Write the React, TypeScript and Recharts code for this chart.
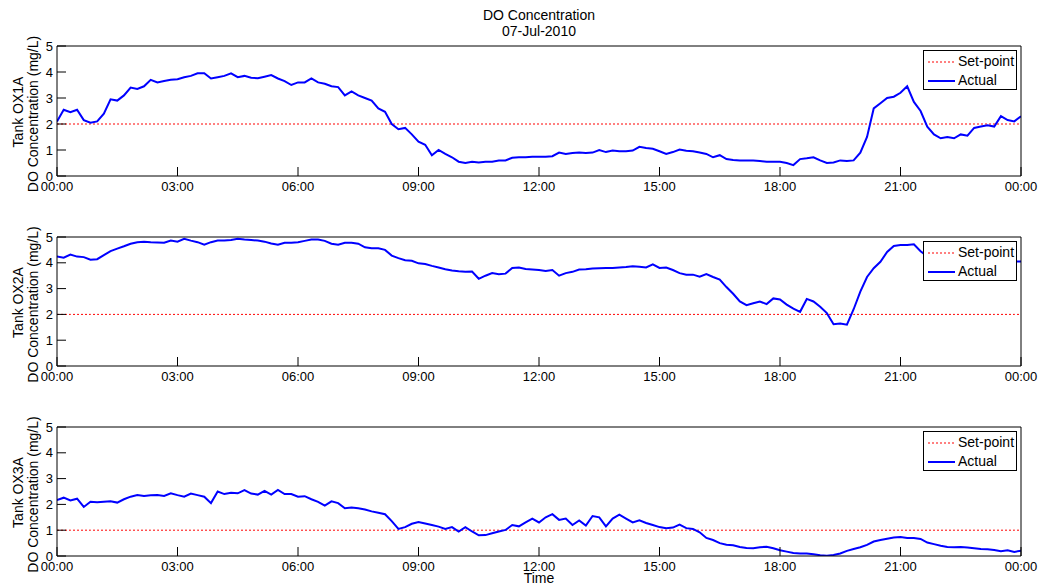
import React from 'react';
import { LineChart, Line, XAxis, YAxis, Legend } from 'recharts';

// sample times (minutes after midnight, every 10 min)
const TIME_MINUTES: number[] = Array.from({ length: 145 }, (_, i) => i * 10);
const X_TICKS = [0, 180, 360, 540, 720, 900, 1080, 1260, 1440];
const X_TICK_LABELS = ['00:00', '03:00', '06:00', '09:00', '12:00', '15:00', '18:00', '21:00', '00:00'];
const Y_TICKS = [0, 1, 2, 3, 4, 5];

const TITLE = 'DO Concentration';
const SUBTITLE = '07-Jul-2010';
const X_LABEL = 'Time';
const Y_LABEL = 'DO Concentration (mg/L)';
const TANKS = ['Tank OX1A', 'Tank OX2A', 'Tank OX3A'];
const SETPOINTS = [2, 2, 1];
const SERIES_NAMES = ['Set-point', 'Actual'];

const OX1A = [
  2.1, 2.55, 2.45, 2.55, 2.15, 2.05, 2.1, 2.4, 2.95, 2.9,
  3.1, 3.4, 3.35, 3.45, 3.7, 3.6, 3.65, 3.7, 3.72, 3.8,
  3.85, 3.95, 3.95, 3.75, 3.8, 3.85, 3.95, 3.8, 3.85, 3.78,
  3.76, 3.82, 3.88, 3.75, 3.65, 3.5, 3.6, 3.6, 3.75, 3.6,
  3.55, 3.45, 3.42, 3.1, 3.25, 3.1, 3.0, 2.9, 2.6, 2.47,
  2.0, 1.8, 1.85, 1.6, 1.32, 1.2, 0.8, 1.0, 0.85, 0.72,
  0.55, 0.5, 0.55, 0.52, 0.55, 0.55, 0.6, 0.6, 0.7, 0.72,
  0.72, 0.74, 0.74, 0.74, 0.76, 0.9, 0.85, 0.88, 0.9, 0.88,
  0.9, 1.0, 0.92, 0.98, 0.95, 0.95, 0.98, 1.12, 1.08, 1.05,
  0.95, 0.85, 0.92, 1.02, 0.97, 0.95, 0.9, 0.85, 0.72, 0.8,
  0.65, 0.62, 0.6, 0.6, 0.6, 0.58, 0.55, 0.55, 0.55, 0.5,
  0.42, 0.65, 0.68, 0.72, 0.6, 0.5, 0.52, 0.6, 0.58, 0.6,
  0.9, 1.5, 2.6, 2.8, 3.0, 3.05, 3.2, 3.45, 2.85, 2.5,
  1.9, 1.6, 1.45, 1.5, 1.45, 1.6, 1.55, 1.85, 1.9, 1.95,
  1.9, 2.3, 2.15, 2.1, 2.3,
];

const OX2A = [
  4.24, 4.2, 4.32, 4.24, 4.22, 4.12, 4.14, 4.3, 4.45, 4.55,
  4.64, 4.74, 4.8, 4.82, 4.8, 4.79, 4.78, 4.86, 4.82, 4.93,
  4.86, 4.8, 4.7, 4.8, 4.86, 4.86, 4.88, 4.93, 4.9, 4.88,
  4.86, 4.82, 4.75, 4.7, 4.78, 4.78, 4.8, 4.85, 4.9, 4.9,
  4.85, 4.74, 4.7, 4.78, 4.78, 4.74, 4.6, 4.56, 4.56, 4.5,
  4.28, 4.18, 4.1, 4.08, 3.98, 3.95, 3.88, 3.82, 3.75, 3.7,
  3.67, 3.65, 3.66, 3.38, 3.5, 3.6, 3.56, 3.58, 3.8, 3.82,
  3.76, 3.74, 3.72, 3.68, 3.72, 3.5, 3.6, 3.65, 3.74, 3.75,
  3.78, 3.79, 3.8, 3.8, 3.82, 3.84, 3.87, 3.85, 3.82, 3.94,
  3.8, 3.82, 3.72, 3.6, 3.54, 3.54, 3.46, 3.56, 3.45, 3.35,
  3.06, 2.8, 2.5, 2.36, 2.43, 2.5, 2.4, 2.62, 2.58, 2.38,
  2.22, 2.1, 2.6, 2.5, 2.3, 2.05, 1.62, 1.65, 1.6, 2.2,
  2.88, 3.45, 3.79, 4.04, 4.42, 4.65, 4.69, 4.69, 4.72, 4.45,
  4.25, 4.2, 4.18, 4.15, 4.12, 4.1, 4.1, 4.08, 4.06, 4.05,
  4.05, 4.05, 4.05, 4.05, 4.05,
];

const OX3A = [
  2.17, 2.26, 2.15, 2.22, 1.9, 2.1, 2.08, 2.1, 2.12, 2.07,
  2.2, 2.3, 2.36, 2.33, 2.35, 2.36, 2.33, 2.43, 2.36, 2.3,
  2.42, 2.36, 2.3, 2.05, 2.5, 2.4, 2.45, 2.43, 2.55, 2.42,
  2.38, 2.52, 2.38, 2.56, 2.4, 2.4, 2.3, 2.32, 2.2, 2.1,
  1.95, 2.12, 2.05, 1.85, 1.88, 1.85, 1.8, 1.73, 1.68, 1.62,
  1.35, 1.05, 1.12, 1.25, 1.32, 1.26, 1.2, 1.14, 1.05, 1.12,
  0.95, 1.12, 0.95, 0.8, 0.81, 0.88, 0.95, 1.01, 1.2, 1.15,
  1.3, 1.45, 1.3, 1.5, 1.62, 1.4, 1.45, 1.2, 1.38, 1.18,
  1.55, 1.5, 1.15, 1.45, 1.6, 1.45, 1.3, 1.38, 1.28, 1.2,
  1.12, 1.08, 1.1, 1.22, 1.08, 1.05, 0.92, 0.7, 0.62, 0.5,
  0.44, 0.42, 0.35, 0.31, 0.3, 0.34, 0.36, 0.3, 0.22, 0.17,
  0.12, 0.1, 0.1, 0.07, 0.03, 0.01, 0.04, 0.1, 0.2, 0.27,
  0.34, 0.43, 0.56, 0.62, 0.67, 0.72, 0.74, 0.7, 0.7, 0.66,
  0.52, 0.46, 0.4, 0.35, 0.34, 0.35, 0.33, 0.3, 0.27, 0.26,
  0.23, 0.18, 0.22, 0.16, 0.2,
];

const PANEL_VALUES = [OX1A, OX2A, OX3A];
const PANEL_PLOT_TOP = [46, 237, 427];
const PANEL_PLOT_BOTTOM = [176, 366, 556];

const FONT = '"Liberation Sans", Arial, Helvetica, sans-serif';
const PLOT_LEFT = 57;
const PLOT_RIGHT = 1021;
const MARGIN_TOP = 46;
const BOTTOM_SPACE = 24;

const fmtX = (v: number) => {
  const i = X_TICKS.indexOf(v);
  return i >= 0 ? X_TICK_LABELS[i] : '';
};

function LegendBox() {
  const row = (dash: boolean, color: string, width: number, label: string) => (
    <div style={{ display: 'flex', alignItems: 'center', height: 19 }}>
      <svg width={28} height={6} style={{ marginLeft: 4, marginRight: 2 }}>
        <line x1={0} y1={3} x2={27} y2={3} stroke={color} strokeWidth={width} strokeDasharray={dash ? '2 2' : undefined} />
      </svg>
      <span style={{ fontSize: 14, color: '#000', fontFamily: FONT, lineHeight: '19px' }}>{label}</span>
    </div>
  );
  return (
    <div
      style={{
        width: 94,
        height: 40,
        boxSizing: 'border-box',
        border: '1px solid #000',
        background: '#fff',
        paddingTop: 1,
      }}
    >
      {row(true, '#ff0000', 1, SERIES_NAMES[0])}
      {row(false, '#0000ff', 2, SERIES_NAMES[1])}
    </div>
  );
}

function Panel({ idx }: { idx: number }) {
  const values = PANEL_VALUES[idx];
  const setpoint = SETPOINTS[idx];
  const plotTop = PANEL_PLOT_TOP[idx];
  const plotBottom = PANEL_PLOT_BOTTOM[idx];
  const divTop = plotTop - MARGIN_TOP;
  const height = plotBottom - divTop + BOTTOM_SPACE;
  const data = TIME_MINUTES.map((t, i) => ({ t, sp: setpoint, v: values[i] }));
  const tickStyle = { fill: '#000', fontSize: 13, fontFamily: FONT };
  return (
    <div style={{ position: 'absolute', left: 0, top: divTop }}>
      <LineChart
        width={1040}
        height={height}
        data={data}
        margin={{ top: MARGIN_TOP - 1, right: 1040 - PLOT_RIGHT - 1, bottom: 0, left: 0 }}
      >
        <XAxis
          xAxisId="b"
          dataKey="t"
          type="number"
          domain={[0, 1440]}
          ticks={X_TICKS}
          interval={0}
          tickFormatter={fmtX}
          orientation="bottom"
          height={BOTTOM_SPACE}
          tickSize={-9}
          tickMargin={15}
          stroke="#000"
          tick={tickStyle}
          allowDataOverflow
        />
        <XAxis
          xAxisId="t"
          dataKey="t"
          type="number"
          domain={[0, 1440]}
          ticks={X_TICKS}
          interval={0}
          orientation="top"
          height={1}
          tickSize={-9}
          tick={false}
          stroke="#000"
          allowDataOverflow
        />
        <YAxis
          yAxisId="l"
          type="number"
          domain={[0, 5]}
          ticks={Y_TICKS}
          interval={0}
          width={PLOT_LEFT}
          tickSize={-9}
          tickMargin={13}
          stroke="#000"
          tick={tickStyle}
          allowDataOverflow
        />
        <YAxis
          yAxisId="r"
          orientation="right"
          type="number"
          domain={[0, 5]}
          ticks={Y_TICKS}
          interval={0}
          width={1}
          tickSize={-9}
          tick={false}
          stroke="#000"
          allowDataOverflow
        />
        <Line
          xAxisId="b"
          yAxisId="l"
          dataKey="sp"
          name={SERIES_NAMES[0]}
          stroke="#ff0000"
          strokeWidth={1}
          strokeDasharray="2 2"
          dot={false}
          activeDot={false}
          isAnimationActive={false}
        />
        <Line
          xAxisId="b"
          yAxisId="l"
          dataKey="v"
          name={SERIES_NAMES[1]}
          type="linear"
          stroke="#0000ff"
          strokeWidth={2}
          dot={false}
          activeDot={false}
          isAnimationActive={false}
        />
        <Legend
          layout="vertical"
          align="center"
          verticalAlign="middle"
          content={() => <LegendBox />}
          wrapperStyle={{ left: PLOT_RIGHT - 98, top: MARGIN_TOP + 4, width: 94, height: 40, right: 'auto', bottom: 'auto' }}
        />
      </LineChart>
    </div>
  );
}

export default function App() {
  return (
    <div
      style={{
        position: 'absolute',
        left: 0,
        top: 0,
        width: 1040,
        height: 586,
        background: '#fff',
        fontFamily: FONT,
        overflow: 'hidden',
      }}
    >
      {[0, 1, 2].map((i) => (
        <Panel key={i} idx={i} />
      ))}
      <svg
        width={1040}
        height={586}
        style={{ position: 'absolute', left: 0, top: 0, pointerEvents: 'none' }}
        fontFamily={FONT}
      >
        <text x={539} y={20} textAnchor="middle" fontSize={14} fill="#000">{TITLE}</text>
        <text x={539} y={36} textAnchor="middle" fontSize={14} fill="#000">{SUBTITLE}</text>
        <text x={539} y={583} textAnchor="middle" fontSize={14} fill="#000">{X_LABEL}</text>
        {TANKS.map((tank, i) => {
          const cy = (PANEL_PLOT_TOP[i] + PANEL_PLOT_BOTTOM[i]) / 2 + 1;
          return (
            <g key={tank}>
              <text x={23} y={cy} transform={`rotate(-90 23 ${cy})`} textAnchor="middle" fontSize={14} fill="#000">{tank}</text>
              <text x={38} y={cy + 2} transform={`rotate(-90 38 ${cy + 2})`} textAnchor="middle" fontSize={14} fill="#000">{Y_LABEL}</text>
            </g>
          );
        })}
      </svg>
    </div>
  );
}
